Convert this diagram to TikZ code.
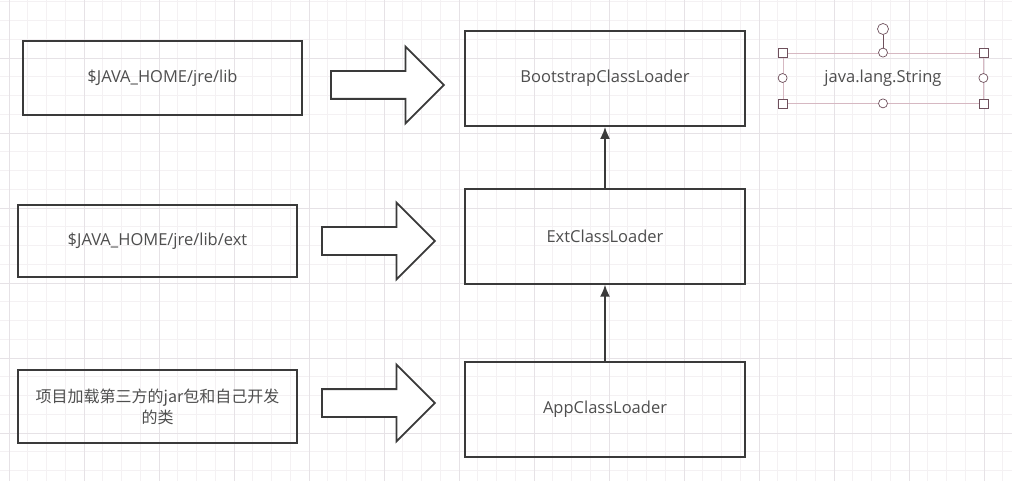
\documentclass[tikz,border=0pt]{standalone}
\usepackage{fontspec}
\setmainfont{Open Sans}
\newfontfamily\cjk{Noto Sans CJK SC}
\usetikzlibrary{positioning, shapes.arrows, arrows.meta}
\definecolor{boxgray}{RGB}{58,58,58}
\definecolor{gridminor}{RGB}{244,241,243}
\definecolor{gridmajor}{RGB}{230,226,230}
\definecolor{selpink}{RGB}{214,184,194}
\definecolor{handle}{RGB}{110,80,92}

\begin{document}
\begin{tikzpicture}[
   x=1pt, y=-1pt,
   every node/.style   = {font=\fontsize{16.5}{19}\selectfont, text=boxgray!90},
   node distance       = 1cm and 2.5cm,
         pathNode/.style   = {rectangle, align=center, draw=boxgray, line width=1.8pt,
                              minimum width=279pt, minimum height=73pt},
         loaderNode/.style = {rectangle, align=center, draw=boxgray, line width=1.8pt,
                              minimum width=280pt, minimum height=95pt},
         selNode/.style    = {rectangle, align=center, draw=selpink, line width=0.8pt,
                              minimum width=200pt, minimum height=50pt},
         fatArrow/.style   = {single arrow, draw=boxgray, line width=1.8pt, fill=white, anchor=tail,
                              inner xsep=0pt, inner ysep=13pt, minimum height=113pt,
                              single arrow head extend=24.5pt, single arrow tip angle=90},
         cornerHandle/.style = {rectangle, draw=handle, fill=white, line width=0.7pt,
                              inner sep=0pt, minimum size=9pt},
         sideHandle/.style = {circle, draw=handle, fill=white, line width=0.7pt,
                              inner sep=0pt, minimum size=9pt},
         myarrow/.style      = {-{Latex[length=12pt, width=10pt]}, draw=boxgray, line width=1.8pt}
]
\useasboundingbox (0,0) rectangle (1012,481);

% background grid
\fill[white] (0,0) rectangle (1012,481);
\foreach \gx in {0,...,54} \draw[gridminor, line width=0.6pt] (9-18.75+\gx*18.75,0) -- ++(0,481);
\foreach \gy in {0,...,25} \draw[gridminor, line width=0.6pt] (0,1.75+\gy*18.75) -- ++(1012,0);
\foreach \gx in {0,...,13} \draw[gridmajor, line width=0.8pt] (9+\gx*75,0) -- ++(0,481);
\foreach \gy in {0,...,6} \draw[gridmajor, line width=0.8pt] (0,58-75+\gy*75) -- ++(1012,0);

\node[loaderNode] (boot) at (605,78.5) {BootstrapClassLoader};
\node[loaderNode, below=61pt of boot] (ext) {ExtClassLoader};
\node[loaderNode, below=76pt of ext] (app) {AppClassLoader};

\draw[myarrow] (ext) -- (boot);
\draw[myarrow] (app) -- (ext);

\node[pathNode, minimum height=74pt] (libdir) at (162.5,78) {\$JAVA\_HOME/jre/lib};
\node[pathNode, minimum height=72pt] (extdir) at (157.5,241) {\$JAVA\_HOME/jre/lib/ext};
\node[pathNode, font=\fontsize{16}{21}\selectfont] (appdir) at (157.5,406.5) {{\cjk 项目加载第三方的jar包和自己开发}\\{\cjk 的类}};

\node[fatArrow] (toboot) at (330,85) {};
\node[fatArrow] (toext) at (321,241) {};
\node[fatArrow] (toapp) at (321,403) {};

% selected node with handles
\node[selNode] (string) at (883,78) {java.lang.String};
\node[sideHandle, minimum size=11pt] (rotate) at (883,29) {};
\draw[handle, line width=0.7pt] (rotate) -- (string.north);
\node[cornerHandle] (nw) at (string.north west) {};
\node[cornerHandle] (ne) at (string.north east) {};
\node[cornerHandle] (sw) at (string.south west) {};
\node[cornerHandle] (se) at (string.south east) {};
\node[sideHandle] (n) at (string.north) {};
\node[sideHandle] (s) at (string.south) {};
\node[sideHandle] (w) at (string.west) {};
\node[sideHandle] (e) at (string.east) {};

\end{tikzpicture}
\end{document}
